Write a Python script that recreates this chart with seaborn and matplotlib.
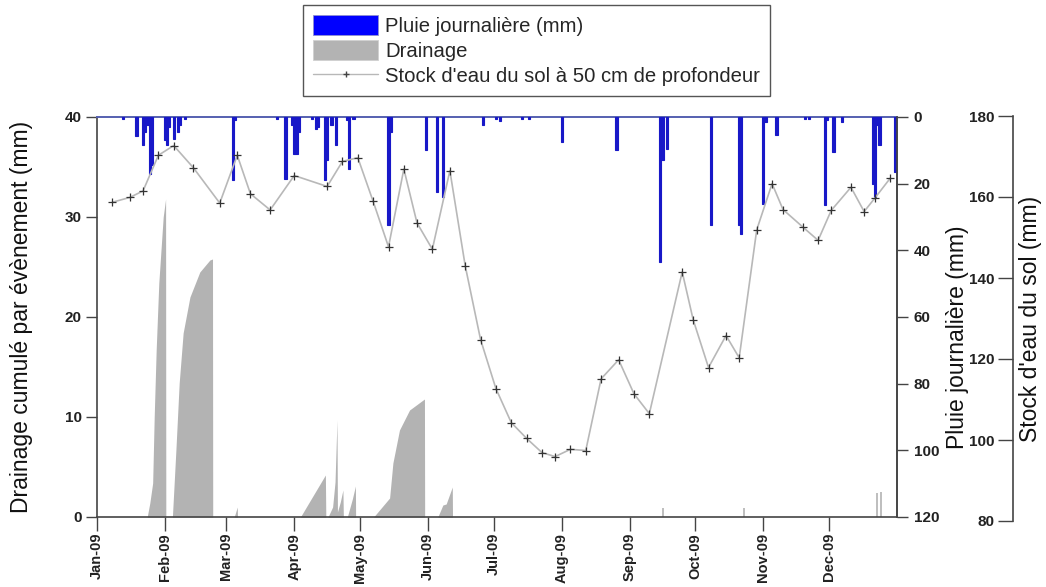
import numpy as np
import pandas as pd
import matplotlib
matplotlib.use("Agg")
import matplotlib.pyplot as plt
import matplotlib.dates as mdates
from matplotlib.patches import Patch
from matplotlib.lines import Line2D
import seaborn as sns

sns.set_theme(style="white")
plt.rcParams["font.family"] = ["Liberation Sans", "DejaVu Sans"]

# ---------------- data ----------------
rain_dates = ["2009-01-13", "2009-01-19", "2009-01-22", "2009-01-23", "2009-01-24", "2009-01-25",
              "2009-01-26", "2009-02-01", "2009-02-02", "2009-02-03", "2009-02-05", "2009-02-07",
              "2009-02-08", "2009-02-10", "2009-03-04", "2009-03-05", "2009-03-24", "2009-03-28",
              "2009-03-31", "2009-04-01", "2009-04-02", "2009-04-03", "2009-04-09", "2009-04-11",
              "2009-04-12", "2009-04-15", "2009-04-16", "2009-04-18", "2009-04-20", "2009-04-25",
              "2009-04-26", "2009-04-28", "2009-05-14", "2009-05-15", "2009-05-31", "2009-06-05",
              "2009-06-08", "2009-06-26", "2009-07-02", "2009-07-04", "2009-07-14", "2009-07-17",
              "2009-08-01", "2009-08-26", "2009-09-15", "2009-09-16", "2009-09-18", "2009-10-08",
              "2009-10-21", "2009-10-22", "2009-11-01", "2009-11-02", "2009-11-07", "2009-11-20",
              "2009-11-22", "2009-11-29", "2009-11-30", "2009-12-03", "2009-12-07", "2009-12-21",
              "2009-12-22", "2009-12-23", "2009-12-24", "2009-12-31"]
rain_mm = [0.7, 5.7, 8.5, 4.5, 2.5, 17.0,
           14.5, 7.0, 8.5, 3.0, 6.5, 4.5,
           2.5, 0.5, 19.0, 1.0, 0.5, 18.5,
           2.5, 11.0, 11.0, 4.5, 0.5, 3.5,
           3.0, 19.0, 13.0, 2.3, 8.5, 1.0,
           15.5, 0.5, 32.5, 4.5, 10.0, 22.5,
           24.0, 2.5, 0.5, 1.2, 0.5, 0.5,
           7.5, 10.0, 43.5, 13.0, 9.5, 32.5,
           32.5, 35.0, 26.0, 1.5, 5.5, 0.5,
           0.5, 26.5, 1.0, 10.5, 1.5, 20.0,
           24.0, 2.5, 8.5, 16.5]

stock_dates = ["2009-01-08", "2009-01-16", "2009-01-22", "2009-01-29", "2009-02-05", "2009-02-14",
               "2009-02-26", "2009-03-06", "2009-03-12", "2009-03-21", "2009-04-01", "2009-04-16",
               "2009-04-23", "2009-04-30", "2009-05-07", "2009-05-14", "2009-05-21", "2009-05-27",
               "2009-06-03", "2009-06-11", "2009-06-18", "2009-06-25", "2009-07-02", "2009-07-09",
               "2009-07-16", "2009-07-23", "2009-07-29", "2009-08-05", "2009-08-12", "2009-08-19",
               "2009-08-27", "2009-09-03", "2009-09-10", "2009-09-25", "2009-09-30", "2009-10-07",
               "2009-10-15", "2009-10-21", "2009-10-29", "2009-11-05", "2009-11-10", "2009-11-19",
               "2009-11-26", "2009-12-02", "2009-12-11", "2009-12-17", "2009-12-22", "2009-12-29"]
stock_mm = [158.7, 159.9, 161.5, 170.3, 172.7, 167.2,
            158.5, 170.3, 160.8, 156.8, 165.3, 162.6,
            168.8, 169.7, 158.9, 147.7, 166.9, 153.6,
            147.1, 166.5, 143.0, 124.8, 112.7, 104.3,
            100.4, 96.9, 95.9, 97.7, 97.4, 115.1,
            119.8, 111.4, 106.5, 141.5, 129.7, 117.9,
            125.8, 120.3, 151.9, 163.3, 156.9, 152.6,
            149.3, 156.7, 162.4, 156.4, 159.8, 164.7]

# cumulative drainage per event: day of year 2009 (0 = 1 Jan) and mm
drain_days = [22.9, 24.1, 25.4, 26.1, 27.0, 28.2, 30.2, 31.3, 31.4,
              34.4, 36.0, 37.5, 39.3, 42.4, 46.9, 51.5, 52.7, 52.8,
              62.6, 64.0, 64.1,
              92.8, 104.2, 104.4,
              105.4, 107.5, 108.6, 109.5, 109.7, 111.0, 112.2, 112.4,
              114.2, 116.5, 117.9, 118.0,
              126.2, 133.5, 135.0, 138.0, 142.6, 149.4, 149.5,
              155.5, 157.8, 159.3, 162.1, 162.2]
drain_mm = [0, 1.4, 3.4, 10.0, 16.7, 23.4, 30.0, 31.8, 0,
            0, 6.7, 13.4, 18.4, 22.0, 24.5, 25.7, 25.8, 0,
            0, 1.0, 0,
            0, 4.2, 0,
            0, 1.0, 3.5, 9.7, 0.5, 1.5, 2.7, 0,
            0, 1.8, 3.1, 0,
            0, 1.9, 5.4, 8.7, 10.7, 11.8, 0,
            0, 1.2, 1.3, 3.0, 0]
spike_days = [258.4, 295.2, 355.9, 357.8]
spike_mm = [0.9, 0.9, 2.4, 2.5]

month_ticks = pd.date_range("2009-01-01", "2009-12-01", freq="MS")

# ---------------- styling ----------------
RAIN_C = "#1818c8"
DRAIN_C = "#b3b3b3"
LINE_C = "#b8b8b8"
AX_C = "#444444"
LBL = 16.5
TCK = 11

W, H = 1046, 587
fig = plt.figure(figsize=(W / 100, H / 100), dpi=100)
ax = fig.add_axes([97 / W, (H - 517) / H, 800 / W, 400 / H])

start = pd.Timestamp("2009-01-01")
d_dates = start + pd.to_timedelta(drain_days, unit="D")
s_dates = start + pd.to_timedelta(spike_days, unit="D")

ax.fill_between(d_dates, 0, drain_mm, color=DRAIN_C, linewidth=0)
ax.vlines(s_dates, 0, spike_mm, color=DRAIN_C, linewidth=1.2)
ax.set_ylim(0, 40)
ax.set_yticks([0, 10, 20, 30, 40])
ax.set_xlim(pd.Timestamp("2009-01-01"), pd.Timestamp("2010-01-01"))
ax.set_xticks(month_ticks)
ax.xaxis.set_major_formatter(mdates.DateFormatter("%b-%y"))
ax.tick_params(axis="x", direction="out", length=10, width=1, color=AX_C, pad=1.5,
               labelsize=10.5, labelrotation=90, bottom=True)
ax.tick_params(axis="y", direction="out", length=8, width=1, color=AX_C, labelsize=TCK, left=True, pad=3)
for lab in ax.get_xticklabels() + ax.get_yticklabels():
    lab.set_fontweight("bold")
    lab.set_color("#222222")
ax.set_ylabel("Drainage cumulé par évènement (mm)", fontsize=LBL, color="#111111")
ax.yaxis.set_label_coords((33 - 97) / 800, 0.5)
for s in ["left", "bottom", "right"]:
    ax.spines[s].set_color(AX_C)
    ax.spines[s].set_linewidth(1.2)
ax.spines["top"].set_color("#5560b0")
ax.spines["top"].set_linewidth(1.4)
ax.grid(False)

# rain on inverted right axis
ax2 = ax.twinx()
r_dates = pd.to_datetime(rain_dates)
ax2.bar(r_dates, rain_mm, width=1.0, color=RAIN_C, edgecolor=RAIN_C, linewidth=0.8, align="center")
ax2.set_ylim(120, 0)
ax2.set_yticks(range(0, 121, 20))
ax2.tick_params(axis="y", direction="out", length=8, width=1, color=AX_C, labelsize=TCK, right=True, pad=4)
for lab in ax2.get_yticklabels():
    lab.set_fontweight("bold")
    lab.set_color("#222222")
ax2.set_ylabel("Pluie journalière (mm)", fontsize=LBL, color="#111111")
ax2.yaxis.set_label_coords((946 - 97) / 800, 0.45)
for s in ["left", "top", "bottom"]:
    ax2.spines[s].set_visible(False)
ax2.spines["right"].set_color(AX_C)
ax2.spines["right"].set_linewidth(1.2)
ax2.grid(False)

# soil water stock on its own offset axis
ax3 = fig.add_axes([97 / W, (H - 521) / H, 800 / W, (521 - 116) / H], sharex=ax)
ax3.patch.set_visible(False)
stock_df = pd.DataFrame({"date": pd.to_datetime(stock_dates), "stock": stock_mm})
sns.lineplot(data=stock_df, x="date", y="stock", ax=ax3, color=LINE_C, linewidth=1.2,
             marker="+", markersize=6, markeredgecolor="#333333", markeredgewidth=0.9)
ax3.set_ylim(80, 180)
ax3.set_yticks(range(80, 181, 20))
for s in ["top", "bottom", "right"]:
    ax3.spines[s].set_visible(False)
ax3.spines["left"].set_position(("axes", (1013 - 97) / 800))
ax3.spines["left"].set_color(AX_C)
ax3.spines["left"].set_linewidth(1.2)
ax3.yaxis.set_ticks_position("left")
ax3.tick_params(axis="y", direction="out", length=11, width=1, color=AX_C, labelsize=TCK, left=True, pad=2.5)
ax3.tick_params(axis="x", bottom=False, labelbottom=False)
for lab in ax3.get_yticklabels():
    lab.set_fontweight("bold")
    lab.set_color("#222222")
ax3.set_xlabel("")
ax3.set_ylabel("Stock d'eau du sol (mm)", fontsize=LBL, color="#111111")
ax3.yaxis.set_label_coords((1042 - 97) / 800, 0.5)
ax3.grid(False)

handles = [Patch(facecolor="#0000ff", edgecolor="#9090d0", linewidth=0.6),
           Patch(facecolor=DRAIN_C, edgecolor="#d0d0d0", linewidth=0.6),
           Line2D([0], [0], color=LINE_C, linewidth=1.0, marker="+", markersize=5,
                  markeredgecolor="#444444")]
labels = ["Pluie journalière (mm)", "Drainage", "Stock d'eau du sol à 50 cm de profondeur"]
leg = fig.legend(handles, labels, loc="upper left", bbox_to_anchor=(303 / W, 1 - 5 / H),
                 frameon=True, fancybox=False, edgecolor="#555555", fontsize=14.6,
                 handlelength=3.2, handleheight=1.15, labelspacing=0.2, borderpad=0.5,
                 handletextpad=0.35, borderaxespad=0, framealpha=1)
leg.get_frame().set_linewidth(1.0)

fig.savefig("out.png", dpi=100)
